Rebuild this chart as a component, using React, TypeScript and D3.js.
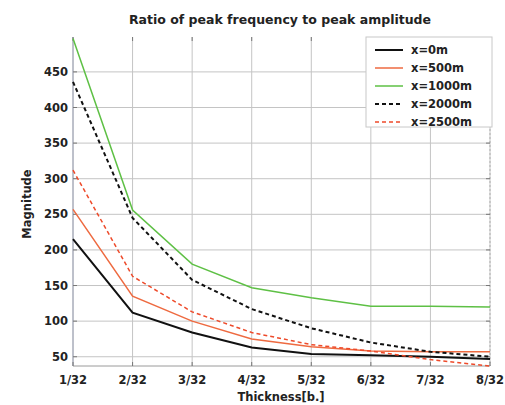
import React from "react";
import * as d3 from "d3";

const categories = ["1/32", "2/32", "3/32", "4/32", "5/32", "6/32", "7/32", "8/32"];
const seriesNames = ["x=0m", "x=500m", "x=1000m", "x=2000m", "x=2500m"];
const x0m = [215, 112, 84, 63, 54, 52, 50, 47];
const x500m = [257, 135, 100, 75, 64, 58, 57, 57];
const x1000m = [497, 256, 180, 147, 133, 121, 121, 120];
const x2000m = [436, 245, 158, 117, 90, 70, 57, 50];
const x2500m = [312, 163, 113, 84, 67, 58, 46, 37];
const yTicks = [50, 100, 150, 200, 250, 300, 350, 400, 450];

const seriesValues = [x0m, x500m, x1000m, x2000m, x2500m];
const colors = ["#111111", "#ee6a40", "#5ec045", "#111111", "#ee4a2a"];
const dashes = [null, null, null, "4,3", "4,3"];
const widths = [2, 1.5, 1.5, 2, 1.5];

const W = 505, H = 405;
const M = { left: 73, right: 490, top: 37, bottom: 366 };
const FONT = "'DejaVu Sans', Verdana, sans-serif";
const FS = 11.5;

export default function App() {
  const x = d3.scalePoint<string>().domain(categories).range([M.left, M.right]);
  const y = d3.scaleLinear().domain([37, 499]).range([M.bottom, M.top]);
  const line = d3.line<number>()
    .x((_, i) => x(categories[i]) as number)
    .y((d) => y(d));

  const legX = 366, legY = 37, legW = 126, legH = 90;
  return (
    <svg width={W} height={H} style={{ position: "absolute", left: 0, top: 0, background: "#fff" }}>
      <rect x={0} y={0} width={W} height={H} fill="#fff" />
      {yTicks.map((t) => (
        <line key={"gy" + t} x1={M.left} x2={M.right} y1={y(t)} y2={y(t)} stroke="#c4c4c4" strokeWidth={1} />
      ))}
      {categories.map((c) => (
        <line key={"gx" + c} x1={x(c)} x2={x(c)} y1={M.top} y2={M.bottom} stroke="#c4c4c4" strokeWidth={1} />
      ))}
      <line x1={M.left} x2={M.left} y1={M.top} y2={M.bottom} stroke="#9aa0b4" strokeWidth={1} />
      <line x1={M.left} x2={M.right} y1={M.bottom} y2={M.bottom} stroke="#9a9a9a" strokeWidth={1} />
      <line x1={M.right} x2={M.right} y1={M.top} y2={M.bottom} stroke="#b0b0b0" strokeWidth={1} strokeDasharray="2,2" />
      {yTicks.map((t) => (
        <g key={"ty" + t}>
          <line x1={M.left} x2={M.left + 4} y1={y(t)} y2={y(t)} stroke="#777" />
          <line x1={M.right - 4} x2={M.right} y1={y(t)} y2={y(t)} stroke="#777" />
          <text x={68} y={y(t) + 4} textAnchor="end" fontFamily={FONT} fontWeight="bold" fontSize={FS} fill="#222">{t}</text>
        </g>
      ))}
      {categories.map((c) => (
        <g key={"tx" + c}>
          <line x1={x(c)} x2={x(c)} y1={M.bottom} y2={M.bottom - 4} stroke="#777" />
          <line x1={x(c)} x2={x(c)} y1={M.top} y2={M.top + 4} stroke="#777" />
          <text x={x(c)} y={384} textAnchor="middle" fontFamily={FONT} fontWeight="bold" fontSize={FS} fill="#222">{c}</text>
        </g>
      ))}
      {seriesValues.map((vals, i) => (
        <path key={"s" + i} d={line(vals) || ""} fill="none" stroke={colors[i]} strokeWidth={widths[i]}
          strokeDasharray={dashes[i] || undefined} />
      ))}
      <text x={280} y={24} textAnchor="middle" fontFamily={FONT} fontWeight="bold" fontSize={12.5} fill="#222">Ratio of peak frequency to peak amplitude</text>
      <text x={281} y={401} textAnchor="middle" fontFamily={FONT} fontWeight="bold" fontSize={FS} fill="#222">Thickness[b.]</text>
      <text transform={`translate(31,204) rotate(-90)`} textAnchor="middle" fontFamily={FONT} fontWeight="bold" fontSize={FS} fill="#222">Magnitude</text>
      <rect x={legX} y={legY} width={legW} height={legH} fill="#fff" stroke="#c8c8c8" strokeWidth={1} />
      {seriesNames.map((n, i) => (
        <g key={"l" + i}>
          <line x1={375} x2={403} y1={50 + i * 18} y2={50 + i * 18} stroke={colors[i]} strokeWidth={widths[i]}
            strokeDasharray={dashes[i] || undefined} />
          <text x={411} y={54 + i * 18} fontFamily={FONT} fontWeight="bold" fontSize={FS} fill="#222">{n}</text>
        </g>
      ))}
    </svg>
  );
}
